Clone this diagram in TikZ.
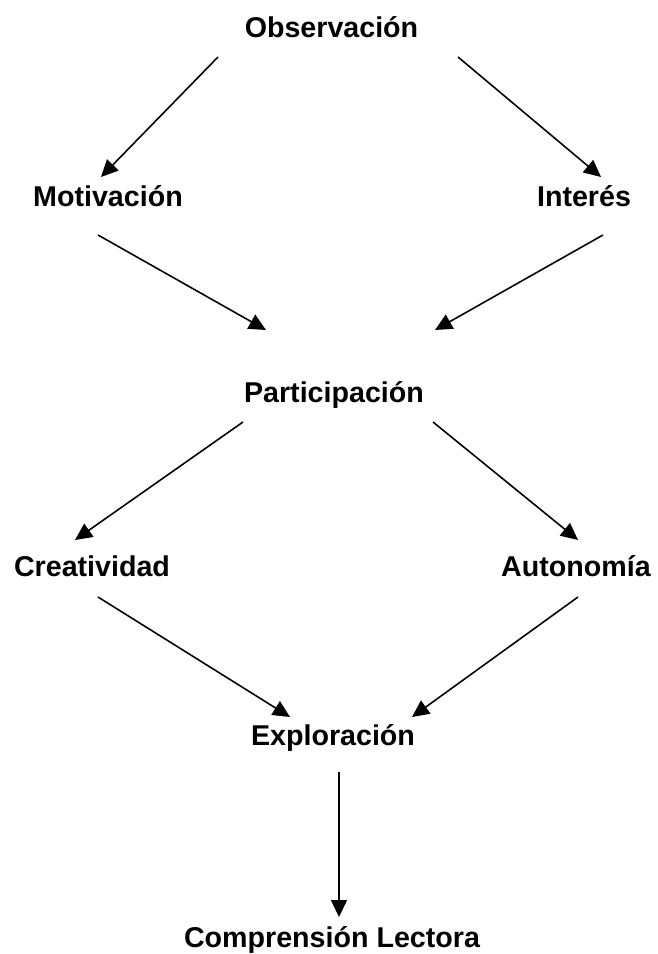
\documentclass[tikz,border=0pt]{standalone}
\usepackage{fontspec}
\setmainfont{Liberation Sans}
\usepackage{tikz}
\usetikzlibrary{arrows.meta}

\begin{document}
\begin{tikzpicture}[x=0.02cm, y=-0.02cm,
		concepto/.style={anchor=base, inner sep=0, font=\fontsize{16.3}{19}\selectfont\bfseries},
		flecha/.style={line width=0.9pt, -{Triangle[length=0.34cm, width=0.32cm]}}]
			\useasboundingbox (0,0) rectangle (657,954);
			% Nodes:
			\node[concepto] (Obs) at (331.5, 37) {Observación};
			\node[concepto] (Mot) at (108, 206) {Motivación};
			\node[concepto] (Int) at (584, 206) {Interés};
			\node[concepto] (Par) at (334, 402) {Participación};
			\node[concepto] (Cre) at (92, 576) {Creatividad};
			\node[concepto] (Aut) at (576, 576) {Autonomía};
			\node[concepto] (Exp) at (333, 745) {Exploración};
			\node[concepto] (Com) at (332, 947) {Comprensión Lectora};
			% Arrows:
			\draw[flecha] ([shift={(-113.5,20)}]Obs.base) -- ([shift={(-7,-29)}]Mot.base);
			\draw[flecha] ([shift={(126.5,20)}]Obs.base) -- ([shift={(17,-29)}]Int.base);
			\draw[flecha] ([shift={(-10,29)}]Mot.base) -- ([shift={(-68,-72)}]Par.base);
			\draw[flecha] ([shift={(19,29)}]Int.base) -- ([shift={(101,-72)}]Par.base);
			\draw[flecha] ([shift={(-91,20)}]Par.base) -- ([shift={(-17,-36)}]Cre.base);
			\draw[flecha] ([shift={(99,20)}]Par.base) -- ([shift={(2,-36)}]Aut.base);
			\draw[flecha] ([shift={(6,21)}]Cre.base) -- ([shift={(-43,-28)}]Exp.base);
			\draw[flecha] ([shift={(2,21)}]Aut.base) -- ([shift={(79,-28)}]Exp.base);
			\draw[flecha] ([shift={(6,27)}]Exp.base) -- ([shift={(7,-30)}]Com.base);
		\end{tikzpicture}
\end{document}
